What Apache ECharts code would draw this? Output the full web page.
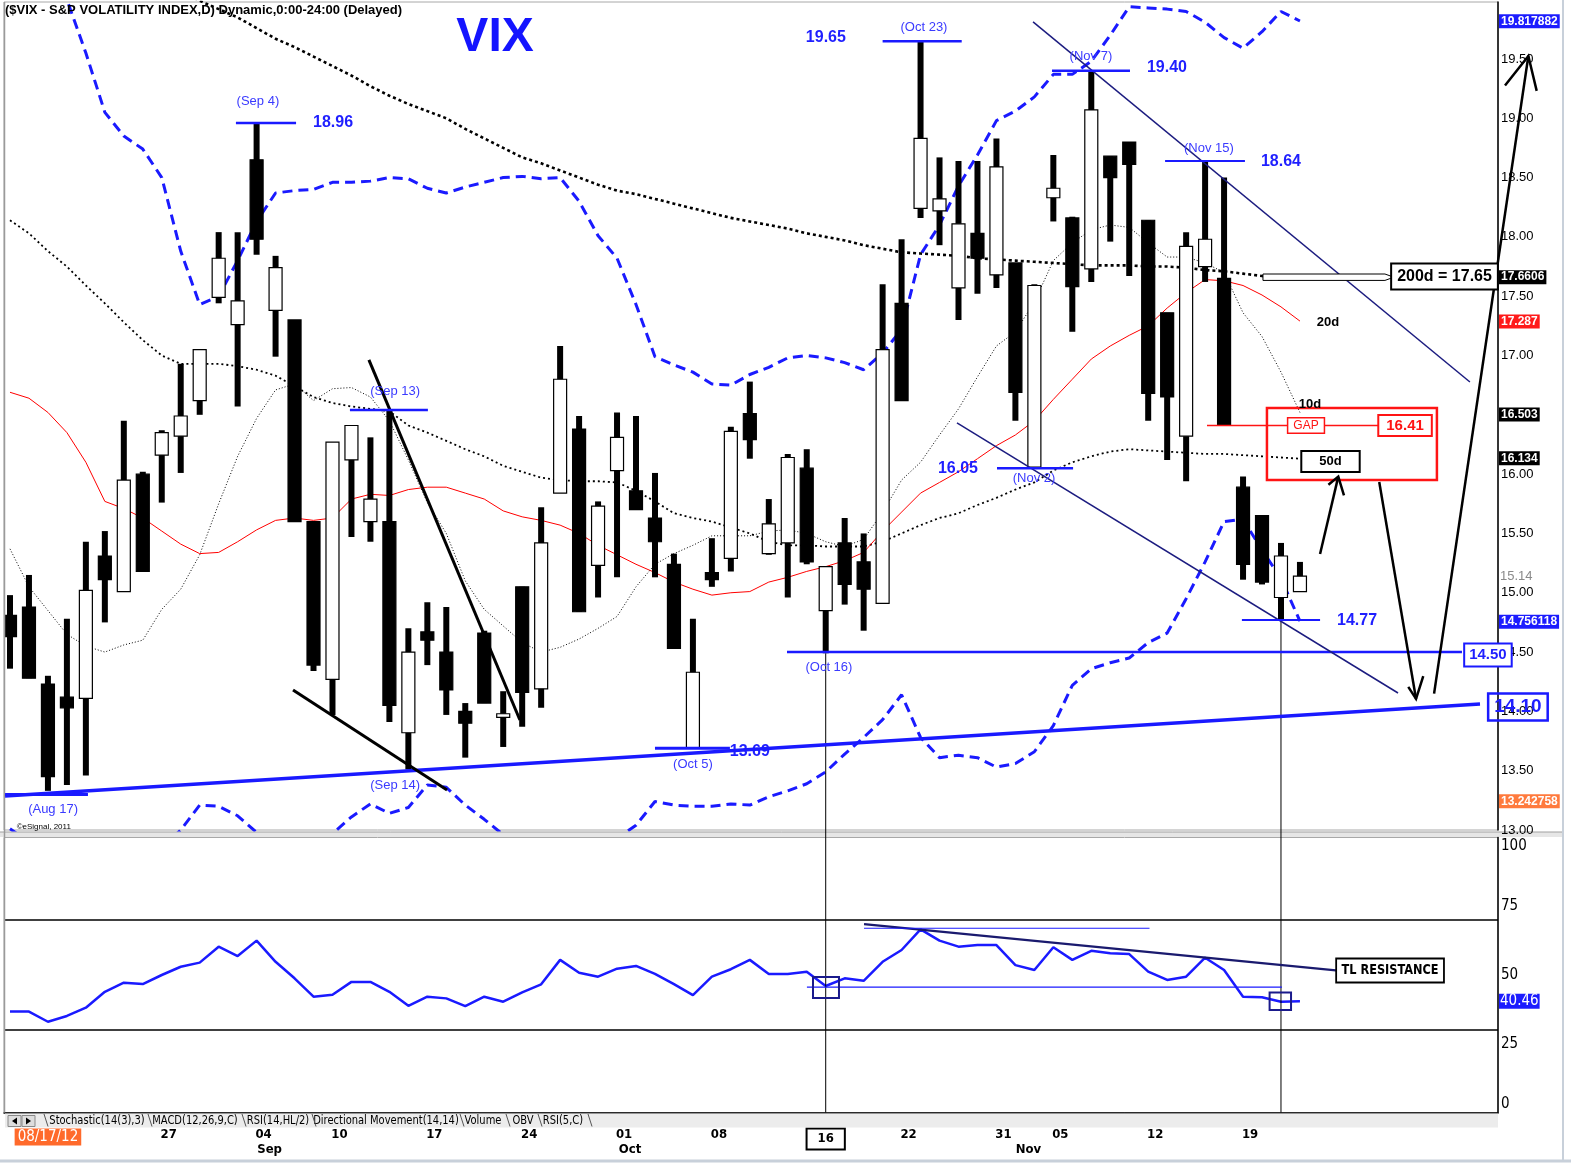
<!DOCTYPE html>
<html><head><meta charset="utf-8">
<script src="https://cdn.jsdelivr.net/npm/echarts@6/dist/echarts.min.js"></script>
<style>html,body{margin:0;padding:0;background:#fff;}#c{width:1571px;height:1165px;}</style>
</head><body><div id="c"></div>
<script>
// ---------------- DATA ----------------
const dates = ['2012-08-15','2012-08-16','2012-08-17','2012-08-20','2012-08-21','2012-08-22','2012-08-23','2012-08-24','2012-08-27','2012-08-28','2012-08-29','2012-08-30','2012-08-31',
'2012-09-04','2012-09-05','2012-09-06','2012-09-07','2012-09-10','2012-09-11','2012-09-12','2012-09-13','2012-09-14','2012-09-17','2012-09-18','2012-09-19','2012-09-20','2012-09-21','2012-09-24','2012-09-25','2012-09-26','2012-09-27','2012-09-28',
'2012-10-01','2012-10-02','2012-10-03','2012-10-04','2012-10-05','2012-10-08','2012-10-09','2012-10-10','2012-10-11','2012-10-12','2012-10-15','2012-10-16','2012-10-17','2012-10-18','2012-10-19','2012-10-22','2012-10-23','2012-10-24','2012-10-25','2012-10-26','2012-10-31',
'2012-11-01','2012-11-02','2012-11-05','2012-11-06','2012-11-07','2012-11-08','2012-11-09','2012-11-12','2012-11-13','2012-11-14','2012-11-15','2012-11-16','2012-11-19','2012-11-20','2012-11-21','2012-11-23'];
const open  = [14.81,14.88,14.23,14.12,14.11,15.31,15.01,16.00,16.16,16.32,16.62,17.49,17.26,18.65,17.38,17.30,15.60,14.27,16.12,15.60,15.60,13.82,14.67,14.50,14.00,14.66,13.95,15.05,14.19,15.84,16.38,15.23,16.03,15.86,15.63,15.24,13.69,15.17,15.29,16.51,15.33,15.42,16.05,14.85,15.42,15.26,14.91,17.44,18.24,18.22,17.57,18.03,17.68,17.78,16.06,18.33,18.16,17.73,18.68,18.80,18.14,17.36,16.32,17.75,17.65,15.89,15.65,14.96,15.01];
const high  = [14.98,15.15,14.30,14.78,15.43,15.52,16.45,16.02,16.37,16.93,17.05,18.04,18.04,18.96,17.84,17.30,15.60,16.27,16.41,16.31,16.54,14.70,14.92,14.88,14.07,14.68,14.17,15.05,15.72,17.08,16.49,15.77,16.52,16.49,16.01,15.33,14.78,15.46,16.40,16.78,15.79,16.17,16.21,15.22,15.63,15.50,17.60,17.98,19.65,18.67,18.64,18.64,18.83,17.78,17.60,18.69,18.17,19.40,18.68,18.80,18.14,17.36,18.04,18.64,18.50,15.98,15.65,15.42,15.26];
const low   = [14.36,14.28,13.33,13.38,13.46,14.75,15.01,15.18,15.76,16.01,16.50,17.44,16.57,17.85,16.99,15.60,14.34,13.97,15.47,15.43,13.91,13.51,14.39,13.97,13.61,14.07,13.70,13.87,14.03,15.84,14.84,14.96,15.13,15.70,15.13,14.53,13.69,15.05,15.18,16.13,15.32,14.96,15.24,14.49,14.90,14.68,14.91,16.62,18.16,17.93,17.30,17.52,17.57,16.45,16.05,18.13,17.20,17.62,17.96,17.67,16.45,16.12,15.94,17.62,16.41,15.11,15.07,14.77,15.01];
const close = [14.63,14.28,13.45,14.03,15.02,15.11,15.95,15.18,16.35,16.49,17.05,17.82,17.46,17.98,17.74,15.60,14.39,16.27,16.41,15.79,14.05,14.50,14.60,14.18,13.90,14.07,13.98,14.16,15.42,16.80,14.84,15.73,16.31,15.70,15.43,14.53,14.33,15.11,16.36,16.29,15.58,16.14,15.26,15.22,15.07,15.03,17.05,16.62,18.83,18.32,18.11,17.82,18.59,16.69,17.59,18.41,17.58,19.07,18.50,18.61,16.68,16.65,17.92,17.98,16.41,15.24,15.09,15.31,15.14];
const ma200 = [20.85,20.75,20.65,20.55,20.45,20.37,20.30,20.22,20.14,20.07,19.99,19.92,19.85,19.76,19.67,19.60,19.52,19.44,19.36,19.27,19.19,19.12,19.06,19.00,18.91,18.83,18.75,18.67,18.62,18.56,18.50,18.44,18.39,18.36,18.32,18.28,18.24,18.20,18.16,18.13,18.10,18.07,18.03,18.00,17.97,17.93,17.90,17.87,17.86,17.85,17.84,17.82,17.81,17.80,17.79,17.78,17.77,17.76,17.76,17.76,17.75,17.75,17.74,17.72,17.71,17.69,17.67,17.66,17.66];
const ma50  = [18.14,18.03,17.88,17.75,17.59,17.44,17.28,17.13,17.00,16.93,16.93,16.93,16.91,16.88,16.83,16.74,16.65,16.60,16.57,16.55,16.53,16.41,16.35,16.28,16.21,16.15,16.07,16.02,15.97,15.95,15.94,15.94,15.93,15.86,15.77,15.67,15.63,15.60,15.55,15.50,15.43,15.40,15.40,15.39,15.39,15.39,15.43,15.50,15.57,15.63,15.67,15.74,15.80,15.87,15.93,16.03,16.10,16.15,16.19,16.21,16.20,16.19,16.18,16.17,16.17,16.16,16.15,16.14,16.13];
const ma20  = [16.69,16.64,16.52,16.35,16.10,15.77,15.71,15.63,15.52,15.41,15.33,15.34,15.43,15.53,15.61,15.63,15.61,15.63,15.79,15.83,15.82,15.87,15.89,15.89,15.84,15.79,15.69,15.64,15.61,15.57,15.50,15.40,15.32,15.24,15.17,15.09,15.03,14.98,15.00,15.01,15.09,15.13,15.18,15.22,15.27,15.34,15.52,15.68,15.84,15.93,16.02,16.13,16.24,16.33,16.45,16.63,16.80,16.97,17.08,17.17,17.25,17.40,17.53,17.64,17.63,17.59,17.51,17.41,17.29];
const ma10  = [15.37,15.05,14.85,14.65,14.55,14.50,14.56,14.60,14.86,15.03,15.32,15.75,16.15,16.47,16.71,16.76,16.62,16.72,16.73,16.65,16.45,16.12,15.76,15.50,15.10,14.86,14.72,14.58,14.50,14.54,14.61,14.70,14.80,15.05,15.24,15.33,15.40,15.48,15.48,15.48,15.52,15.53,15.50,15.43,15.39,15.45,15.68,15.95,16.10,16.33,16.55,16.82,17.08,17.20,17.45,17.80,17.95,18.06,18.10,18.08,17.95,17.83,17.83,17.78,17.70,17.36,17.16,16.86,16.52];
const bbUpper = [20.60,20.40,20.20,20.00,19.55,19.05,18.85,18.74,18.50,17.88,17.43,17.50,17.80,18.13,18.37,18.39,18.40,18.46,18.46,18.47,18.50,18.49,18.41,18.37,18.42,18.46,18.50,18.51,18.49,18.50,18.30,18.01,17.82,17.43,16.99,16.92,16.86,16.76,16.75,16.84,16.90,16.98,17.00,16.98,16.94,16.88,17.02,17.22,17.85,18.10,18.43,18.69,18.98,19.06,19.18,19.37,19.37,19.48,19.70,19.94,19.93,19.92,19.90,19.81,19.68,19.59,19.73,19.90,19.82];
const bbLower = [13.01,12.90,12.80,12.70,12.65,12.60,12.60,12.65,12.85,13.00,13.21,13.20,13.12,12.98,12.85,12.75,12.80,12.97,13.11,13.22,13.14,13.19,13.38,13.36,13.21,13.09,12.96,12.85,12.75,12.70,12.70,12.75,12.93,13.04,13.24,13.21,13.20,13.20,13.22,13.21,13.28,13.33,13.39,13.49,13.64,13.78,13.93,14.14,13.78,13.61,13.63,13.61,13.53,13.56,13.66,13.88,14.22,14.36,14.41,14.45,14.58,14.66,14.95,15.26,15.60,15.62,15.36,15.12,14.76];
const rsi = [36.7,36.7,33.0,35.1,38.1,43.9,47.2,46.7,50.0,53.0,54.5,60.3,56.9,62.5,54.8,48.8,42.1,42.8,47.5,47.5,43.9,38.8,42.1,41.5,38.7,42.1,40.3,43.7,46.6,55.5,50.8,49.4,52.3,53.3,50.4,46.7,42.7,49.4,52.1,55.5,50.4,50.4,51.2,46.0,48.8,47.9,54.8,59.1,66.6,62.5,60.3,60.9,60.9,53.6,51.8,60.1,55.5,58.8,57.9,57.6,51.2,48.2,49.4,56.3,51.8,42.1,41.9,40.3,40.46];
const tickIdx  = [2,8,13,17,22,27,32,37,43,47,52,55,60,65];
const tickText = ['08/17/12','27','04','10','17','24','01','08','16','22','31','05','12','19'];
const monthIdx  = [13,32,53];
const monthText = ['Sep','Oct','Nov'];
const priceTicks = [13,13.5,14,14.5,15,15.5,16,16.5,17,17.5,18,18.5,19,19.5];
const rsiTicks = [0,25,50,75,100];
const rsiLevels = [70,30];

// ---------------- CHART ----------------
const SANS = '"Liberation Sans", Arial, sans-serif';
const NARROW = '"Liberation Sans Narrow", "DejaVu Sans Condensed", "Liberation Sans", sans-serif';
const BLUE = '#1a1aff', NAVY = '#1c1c80', RED = '#ff1414';
const XMIN = -0.316, XMAX = 78.44;
const chart = echarts.init(document.getElementById('c'));
const pair = arr => arr.map((v, i) => [i, v]);
const candleData = dates.map((d, i) => [i, open[i], close[i], low[i], high[i]]);

function renderCandle(params, api) {
  const i = api.value(0), o = api.value(1), c = api.value(2), l = api.value(3), h = api.value(4);
  const hi = api.coord([i, h]), lo = api.coord([i, l]), po = api.coord([i, o]), pc = api.coord([i, c]);
  const x = hi[0];
  const top = Math.min(po[1], pc[1]);
  const bh = Math.max(2, Math.abs(po[1] - pc[1]));
  const up = c >= o;
  return {type: 'group', children: [
    {type: 'rect', shape: {x: x - 3, y: hi[1], width: 6, height: lo[1] - hi[1]}, style: {fill: '#000'}},
    {type: 'rect', shape: {x: x - 6.5, y: top, width: 13, height: bh}, style: {fill: up ? '#fff' : '#000', stroke: '#000', lineWidth: 1.2}}
  ]};
}
function maSeries(name, arr, color, width, type) {
  return {name, type: 'line', xAxisIndex: 0, yAxisIndex: 0, data: pair(arr), showSymbol: false, symbol: 'none',
    lineStyle: {color, width, type}, z: 2, silent: true, clip: true};
}

const option = {
  animation: false,
  backgroundColor: '#fff',
  title: {text: '($VIX - S&P VOLATILITY INDEX,D) Dynamic,0:00-24:00 (Delayed)', left: 5, top: 4, padding: 0,
    textStyle: {fontSize: 13, fontWeight: 'bold', color: '#000', fontFamily: SANS}},
  grid: [
    {left: 4, right: 73, top: 2, height: 828, show: true, borderColor: '#a8a8a8', borderWidth: 1},
    {left: 4, right: 73, top: 837.5, height: 275, show: true, borderColor: '#a8a8a8', borderWidth: 1}
  ],
  xAxis: [
    {type: 'value', gridIndex: 0, min: XMIN, max: XMAX, show: false, axisLine: {onZero: false}},
    {type: 'value', gridIndex: 1, min: XMIN, max: XMAX, position: 'bottom',
      axisLine: {show: true, onZero: false, lineStyle: {color: '#000', width: 1.5}}, axisTick: {show: false}, splitLine: {show: false},
      axisLabel: {customValues: tickIdx, margin: 16,
        formatter: v => { const k = tickIdx.indexOf(v); if (k < 0) return ''; const t = tickText[k];
          if (k === 0) return '{o|' + t + '}'; if (tickIdx[k] === 43) return '{b|' + t + '}'; return '{d|' + t + '}'; },
        rich: {
          o: {color: '#fff', backgroundColor: '#ff6a2b', fontFamily: NARROW, fontSize: 15, padding: [1, 3]},
          b: {color: '#000', fontFamily: NARROW, fontSize: 13, fontWeight: 'bold', borderColor: '#000', borderWidth: 2, padding: [4, 11]},
          d: {color: '#000', fontFamily: NARROW, fontSize: 13, fontWeight: 'bold', padding: [0, 0, 0, 14]}
        }}},
    {type: 'value', gridIndex: 1, min: XMIN, max: XMAX, position: 'bottom',
      axisLine: {show: false, onZero: false}, axisTick: {show: false}, splitLine: {show: false},
      axisLabel: {customValues: monthIdx, margin: 31,
        formatter: v => { const k = monthIdx.indexOf(v); return k < 0 ? '' : '{m|' + monthText[k] + '}'; },
        rich: {m: {color: '#000', fontFamily: NARROW, fontSize: 13, fontWeight: 'bold', padding: [0, 0, 0, 26]}}}}
  ],
  yAxis: [
    {type: 'value', gridIndex: 0, position: 'right', min: 13, max: 19.98,
      axisLine: {show: true, onZero: false, lineStyle: {color: '#000', width: 1.5}}, axisTick: {show: false}, splitLine: {show: false},
      axisLabel: {customValues: priceTicks, margin: 3, fontSize: 13, color: '#000', fontFamily: SANS, formatter: v => v.toFixed(2)}},
    {type: 'value', gridIndex: 1, position: 'right', min: 0, max: 100,
      axisLine: {show: true, onZero: false, lineStyle: {color: '#000', width: 1.5}}, axisTick: {show: false}, splitLine: {show: false},
      axisLabel: {customValues: rsiTicks, margin: 3, fontSize: 15, color: '#000', fontFamily: NARROW,
        formatter: v => v === 100 ? '{t|100}' : (v === 0 ? '{b|0}' : String(v)),
        rich: {t: {fontSize: 15, fontFamily: NARROW, color: '#000', padding: [17, 0, 0, 0]},
               b: {fontSize: 15, fontFamily: NARROW, color: '#000', padding: [0, 0, 17, 0]}}}}
  ],
  series: [
    maSeries('BB upper', bbUpper, BLUE, 3, [10, 6]),
    maSeries('BB lower', bbLower, BLUE, 3, [10, 6]),
    maSeries('200d', ma200, '#000', 2.6, [3, 3]),
    maSeries('50d', ma50, '#000', 1.8, [2, 3]),
    maSeries('20d', ma20, '#ff0000', 1, 'solid'),
    maSeries('10d', ma10, '#000', 1, [1, 2]),
    {name: 'VIX', type: 'custom', xAxisIndex: 0, yAxisIndex: 0, data: candleData, renderItem: renderCandle,
      encode: {x: 0, y: [1, 2, 3, 4]}, clip: true, z: 5, silent: true},
    {name: 'RSI', type: 'line', xAxisIndex: 1, yAxisIndex: 1, data: pair(rsi), showSymbol: false, symbol: 'none',
      lineStyle: {color: BLUE, width: 2.5}, z: 5, silent: true,
      markLine: {silent: true, symbol: 'none', label: {show: false}, lineStyle: {color: '#000', width: 1.5, type: 'solid'},
        data: rsiLevels.map(v => ({yAxis: v}))}}
  ]
};
chart.setOption(option);

// ---------------- ANNOTATIONS (data coordinates -> pixels through the axes) ----------------
const X = v => chart.convertToPixel({xAxisIndex: 0}, v);
const Y = p => chart.convertToPixel({yAxisIndex: 0}, p);
const YR = r => chart.convertToPixel({yAxisIndex: 1}, r);
const G = [];
function seg(x1, y1, x2, y2, color, w, z) { G.push({type: 'line', z: z === undefined ? 100 : z, silent: true, shape: {x1, y1, x2, y2}, style: {stroke: color, lineWidth: w}}); }
function poly(pts, color, w, z) { G.push({type: 'polyline', z: z || 100, silent: true, shape: {points: pts}, style: {stroke: color, lineWidth: w, fill: null}}); }
function txt(x, y, text, st, z, sx) { const e = {type: 'text', z: z || 101, silent: true, x, y, style: Object.assign({text, align: 'center', verticalAlign: 'middle'}, st)}; if (sx) e.scaleX = sx; G.push(e); }
const F = (w, s, fam) => ({fontWeight: w, fontSize: s, fontFamily: fam || SANS});

// lines in price panel: [v1, p1, v2, p2, color, width]
const priceLines = [
  [-0.26, 13.287, 77.49, 14.062, BLUE, 3.5],
  [40.96, 14.50, 76.54, 14.50, BLUE, 2.5],
  [14.92, 14.18, 23.04, 13.337, '#000', 3],
  [18.92, 16.963, 26.88, 13.927, '#000', 3],
  [53.93, 19.813, 76.96, 16.777, NAVY, 1.5],
  [49.92, 16.432, 73.17, 14.155, NAVY, 1.5],
  [11.91, 18.96, 15.08, 18.96, BLUE, 2.5],
  [17.92, 16.54, 22.03, 16.54, BLUE, 2.5],
  [46.0, 19.65, 50.17, 19.65, BLUE, 2.5],
  [54.93, 19.40, 59.04, 19.40, BLUE, 2.5],
  [60.89, 18.64, 65.10, 18.64, BLUE, 2],
  [52.03, 16.05, 56.04, 16.05, BLUE, 2.5],
  [64.94, 14.77, 69.06, 14.77, BLUE, 2],
  [-0.26, 13.30, 4.11, 13.30, BLUE, 3],
  [34.0, 13.69, 37.95, 13.69, BLUE, 3],
  [63.1, 16.41, 72.22, 16.41, RED, 1.5]
];
priceLines.forEach(a => seg(X(a[0]), Y(a[1]), X(a[2]), Y(a[3]), a[4], a[5]));

// red gap rectangle
G.push({type: 'rect', z: 100, silent: true, shape: {x: X(66.26), y: Y(16.558), width: X(75.22) - X(66.26), height: Y(15.951) - Y(16.558)},
  style: {stroke: RED, lineWidth: 2.5, fill: null}});

// arrows: shaft + head
const arrows = [
  {shaft: [[69.06, 15.327], [70.02, 15.979]], head: [[69.5, 15.911], [70.02, 15.979], [70.32, 15.82]]},
  {shaft: [[72.18, 15.934], [74.12, 14.105]], head: [[73.71, 14.206], [74.12, 14.105], [74.5, 14.298]]},
  {shaft: [[75.07, 14.150], [80.04, 19.525]], head: [[78.81, 19.276], [80.04, 19.525], [80.48, 19.231]]}
];
arrows.forEach(a => {
  poly(a.shaft.map(q => [X(q[0]), Y(q[1])]), '#000', 2.5, 102);
  poly(a.head.map(q => [X(q[0]), Y(q[1])]), '#000', 2.5, 102);
});

// hollow pointer to the 200d box
(function () {
  const yc = Y(17.66), x0 = X(66.05), x1 = X(72.48), x2 = X(72.95);
  G.push({type: 'polygon', z: 100, silent: true, shape: {points: [[x0, yc - 3.2], [x1, yc - 3.2], [x2, yc], [x1, yc + 3.2], [x0, yc + 3.2]]},
    style: {stroke: '#000', lineWidth: 1, fill: '#fff'}});
})();

// vertical guide lines
seg(X(43), Y(14.49), X(43), YR(0), '#000', 1, 99);
seg(X(67), Y(14.77), X(67), YR(0), '#000', 1, 99);

// texts in price panel
const blueBold = Object.assign({fill: '#1f1fff'}, F('bold', 16));
const blueSmall = Object.assign({fill: '#3a3aff'}, F('normal', 13));
txt(X(25.57), Y(19.678), 'VIX', Object.assign({fill: '#1414ff'}, F('bold', 48)));
[['(Sep 4)', 13.07, 19.138], ['(Oct 23)', 48.18, 19.762], ['(Nov 7)', 56.98, 19.518], ['(Nov 15)', 63.2, 18.742],
 ['(Sep 13)', 20.3, 16.70], ['(Sep 14)', 20.3, 13.379], ['(Aug 17)', 2.27, 13.177], ['(Oct 5)', 36.0, 13.556],
 ['(Oct 16)', 43.17, 14.374], ['(Nov 2)', 53.98, 15.968]].forEach(a => txt(X(a[1]), Y(a[2]), a[0], blueSmall));
[['18.96', 17.03, 18.961], ['19.65', 43.01, 19.678], ['19.40', 60.99, 19.425], ['18.64', 67.0, 18.632],
 ['16.05', 49.97, 16.044], ['14.77', 71.01, 14.762]].forEach(a => txt(X(a[1]), Y(a[2]), a[0], blueBold));
txt(X(39.0), Y(13.658), '13.69', blueBold, 98);
txt(X(69.48), Y(17.275), '20d', Object.assign({fill: '#000'}, F('bold', 13)));
txt(X(68.53), Y(16.584), '10d', Object.assign({fill: '#000'}, F('bold', 13)));
txt(X(0.35), Y(13.03), '\u00a9eSignal, 2011', Object.assign({fill: '#000', align: 'left'}, F('normal', 8)));

// boxed labels
const boxes = [
  ['GAP', 68.32, 16.41, Object.assign({fill: RED, backgroundColor: '#fff', borderColor: RED, borderWidth: 1.5, padding: [1, 5]}, F('normal', 12))],
  ['16.41', 73.54, 16.41, Object.assign({fill: RED, backgroundColor: '#fff', borderColor: RED, borderWidth: 2, padding: [2, 7]}, F('bold', 15))],
  ['50d', 69.61, 16.107, Object.assign({fill: '#000', backgroundColor: '#fff', borderColor: '#000', borderWidth: 2, padding: [3, 17]}, F('bold', 13))],
  ['200d = 17.65', 75.62, 17.667, Object.assign({fill: '#000', backgroundColor: '#fff', borderColor: '#000', borderWidth: 2, padding: [4, 5]}, F('bold', 16))],
  ['14.50', 77.91, 14.476, Object.assign({fill: '#1f1fff', backgroundColor: '#fff', borderColor: BLUE, borderWidth: 2, padding: [3, 4]}, F('bold', 15))],
  ['14.10', 79.49, 14.037, Object.assign({fill: '#1f1fff', borderColor: BLUE, borderWidth: 2.5, padding: [4, 6]}, F('bold', 19))]
];
boxes.forEach(b => txt(X(b[1]), Y(b[2]), b[0], b[3], 103));

// right-axis value markers
const axX = X(XMAX) + 1;
const markers = [
  ['19.817882', 19.817882, '#1c1cff'], ['17.6606', 17.6606, '#000'], ['17.287', 17.287, '#ff1a1a'],
  ['16.503', 16.503, '#000'], ['16.134', 16.134, '#000'], ['14.756118', 14.756118, '#1c1cff'], ['13.242758', 13.242758, '#ff7a3d']
];
markers.forEach(m => txt(axX, Y(m[1]), m[0], Object.assign({fill: '#fff', align: 'left', backgroundColor: m[2], padding: [1, 2]}, F('bold', 12)), 104));
txt(axX + 1, Y(15.14), '15.14', Object.assign({fill: '#8a8a8a', align: 'left'}, F('normal', 13)), 104);
txt(axX, YR(40.46), '40.46', Object.assign({fill: '#fff', align: 'left', backgroundColor: '#1c1cff', padding: [0, 1]}, F('normal', 15, NARROW)), 104);

// RSI panel annotations
seg(X(45.02), YR(68.5), X(70.16), YR(51.5), '#1a1a6e', 2.5);
seg(X(45.02), YR(67.0), X(60.07), YR(67.0), BLUE, 1.2);
seg(X(42.01), YR(45.6), X(67.05), YR(45.6), BLUE, 1.2);
[[42.33, 49.3, 43.70, 41.6], [66.4, 43.6, 67.53, 37.3]].forEach(s => G.push({type: 'rect', z: 100, silent: true,
  shape: {x: X(s[0]), y: YR(s[1]), width: X(s[2]) - X(s[0]), height: YR(s[3]) - YR(s[1])}, style: {stroke: '#1a1a8c', lineWidth: 2, fill: null}}));
txt(X(72.75), YR(51.65), 'TL RESISTANCE', Object.assign({fill: '#000', backgroundColor: '#fff', borderColor: '#000', borderWidth: 2, padding: [4, 5]}, F('bold', 14, NARROW)), 103, 0.9);

// panel chrome: separator, tab bar, frame
G.push({type: 'rect', z: -1, silent: true, shape: {x: 0, y: 832, width: 1563, height: 5}, style: {fill: '#e6e6e6', stroke: null}});
seg(0, 832, 1563, 832, '#a0a0a0', 1, -1);
seg(4.5, 2, 4.5, YR(0), '#9a9a9a', 1.5, 91);
G.push({type: 'rect', z: 90, silent: true, shape: {x: 5, y: YR(0) + 1, width: X(XMAX) - 5, height: 14}, style: {fill: '#ececec', stroke: null}});
G.push({type: 'rect', z: 91, silent: true, shape: {x: 8, y: YR(0) + 3, width: 13, height: 11}, style: {fill: '#ddd', stroke: '#888', lineWidth: 1}});
G.push({type: 'rect', z: 91, silent: true, shape: {x: 22, y: YR(0) + 3, width: 13, height: 11}, style: {fill: '#ddd', stroke: '#888', lineWidth: 1}});
G.push({type: 'polygon', z: 92, silent: true, shape: {points: [[17, YR(0) + 5], [17, YR(0) + 12], [12, YR(0) + 8.5]]}, style: {fill: '#000'}});
G.push({type: 'polygon', z: 92, silent: true, shape: {points: [[26, YR(0) + 5], [26, YR(0) + 12], [31, YR(0) + 8.5]]}, style: {fill: '#000'}});
const tabNames = ['Stochastic(14(3),3)', 'MACD(12,26,9,C)', 'RSI(14,HL/2)', 'Directional Movement(14,14)', 'Volume', 'OBV', 'RSI(5,C)'];
const tabCenters = [97, 195, 278, 386, 483, 523, 563];
const tabSeps = [44, 148, 242, 312, 460, 506, 538, 588];
tabNames.forEach((t, k) => txt(tabCenters[k], YR(0) + 8.5, t, Object.assign({fill: '#000'}, F('normal', 12, NARROW)), 92, 0.92));
tabSeps.forEach(x => seg(x, YR(0) + 1.5, x + 4, YR(0) + 14, '#555', 1, 92));
seg(1563, 0, 1563, 1162, '#c8d0da', 2, 91);
seg(0, 1161, 1571, 1161, '#c8d0da', 3, 91);

chart.setOption({graphic: G});
</script>
</body></html>
